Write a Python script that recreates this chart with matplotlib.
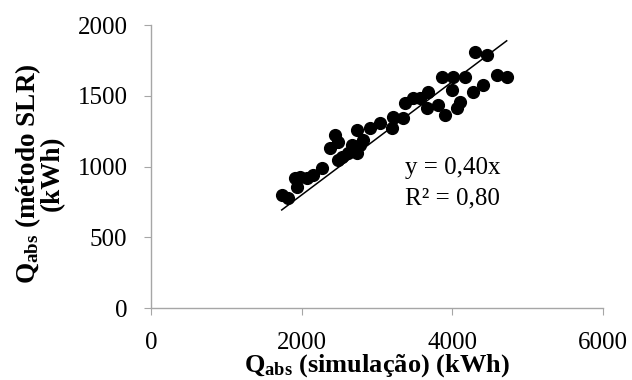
import numpy as np
import matplotlib.pyplot as plt

plt.rcParams['font.family'] = ['Liberation Serif', 'DejaVu Serif']
plt.rcParams['mathtext.fontset'] = 'custom'
plt.rcParams['mathtext.rm'] = 'Liberation Serif'
plt.rcParams['mathtext.bf'] = 'Liberation Serif:bold'

# Dados
q_sim = [1735, 1823, 1911, 1978, 1934, 2067, 2154, 2266, 2376, 2442,
         2486, 2486, 2531, 2619, 2664, 2730, 2774, 2730, 2814, 2907,
         3040, 3216, 3195, 3349, 3372, 3482, 3571, 3681, 3660, 3814,
         3859, 3903, 4013, 4168, 3991, 4301, 4456, 4589, 4722, 4411,
         4278, 4102, 4058]
q_slr = [799, 775, 917, 928, 857, 917, 940, 987, 1129, 1223,
         1175, 1046, 1069, 1093, 1152, 1258, 1152, 1093, 1187, 1270,
         1305, 1352, 1270, 1341, 1447, 1482, 1482, 1529, 1411, 1435,
         1635, 1364, 1635, 1635, 1541, 1811, 1788, 1647, 1635, 1576,
         1529, 1458, 1411]
coef = 0.40
r2 = 0.80

x = np.array(q_sim)
y = np.array(q_slr)

fig = plt.figure(figsize=(6.32, 3.8), dpi=100)
ax = fig.add_axes([0.239, 0.189, 0.715, 0.745])

ax.scatter(x, y, s=72, color='black', zorder=3)
xl = np.array([x.min(), x.max()])
ax.plot(xl, coef * xl, color='black', lw=1.1, zorder=2)

ax.set_xlim(0, 6000)
ax.set_ylim(0, 2000)
ax.set_xticks([0, 2000, 4000, 6000])
ax.set_yticks([0, 500, 1000, 1500, 2000])

for s in ['top', 'right']:
    ax.spines[s].set_visible(False)
for s in ['left', 'bottom']:
    ax.spines[s].set_color('#a6a6a6')
    ax.spines[s].set_linewidth(1.0)
ax.tick_params(colors='#a6a6a6', labelcolor='black', labelsize=18, length=5)
ax.tick_params(axis='y', pad=12)
ax.tick_params(axis='x', pad=12)

ax.set_xlabel(r'$\mathbf{Q_{abs}}$ (simulação) (kWh)', fontsize=19,
              fontweight='bold', labelpad=-1)
ax.set_ylabel(r'$\mathbf{Q_{abs}}$ (método SLR)' + '\n(kWh)', fontsize=19.5,
              fontweight='bold', linespacing=0.85)
ax.yaxis.set_label_coords(-0.19, 0.475)

ax.text(0.562, 0.495, f'y = {coef:.2f}x'.replace('.', ','), transform=ax.transAxes,
        fontsize=18, va='center', ha='left')
ax.text(0.562, 0.389, f'R² = {r2:.2f}'.replace('.', ','), transform=ax.transAxes,
        fontsize=18, va='center', ha='left')

fig.savefig('out.png', dpi=100)
